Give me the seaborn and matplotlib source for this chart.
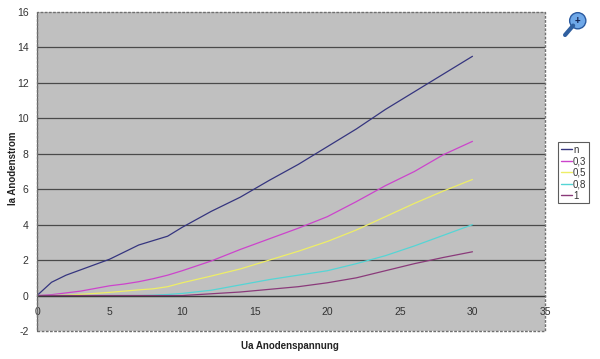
import pandas as pd
import matplotlib
matplotlib.use("Agg")
import matplotlib.pyplot as plt
import seaborn as sns
from matplotlib.patches import Rectangle, Circle

# anode voltage (x) and anode current for each grid setting
ua = [0, 1, 2, 3, 4, 5, 6, 7, 8, 9, 10, 12, 14, 16, 18, 20, 22, 24, 26, 28, 30]
ia_n = [0, 0.75, 1.15, 1.45, 1.75, 2.05, 2.45, 2.85, 3.1, 3.35, 3.85, 4.75, 5.55, 6.5, 7.4, 8.4, 9.4, 10.5, 11.5, 12.5, 13.5]
ia_03 = [0, 0.05, 0.15, 0.25, 0.4, 0.55, 0.65, 0.78, 0.95, 1.15, 1.4, 1.95, 2.6, 3.2, 3.8, 4.45, 5.3, 6.2, 7.0, 7.95, 8.7]
ia_05 = [0, 0, 0.02, 0.07, 0.12, 0.18, 0.25, 0.32, 0.38, 0.5, 0.72, 1.1, 1.5, 2.0, 2.5, 3.05, 3.7, 4.45, 5.2, 5.9, 6.55]
ia_08 = [0, 0, 0, 0, 0, 0, 0, 0, 0.02, 0.06, 0.12, 0.3, 0.6, 0.9, 1.15, 1.4, 1.8, 2.25, 2.8, 3.4, 4.0]
ia_1 = [0, 0, 0, 0, 0, 0, 0, 0, 0, 0, 0, 0.1, 0.2, 0.35, 0.5, 0.72, 1.0, 1.4, 1.8, 2.15, 2.47]

series_names = ["n", "0,3", "0,5", "0,8", "1"]
colors = ["#35357f", "#cc44cc", "#eeee66", "#55d5d5", "#8a3a7a"]

rows = []
for name, vals in zip(series_names, [ia_n, ia_03, ia_05, ia_08, ia_1]):
    for x, y in zip(ua, vals):
        rows.append({"Ua": x, "Ia": y, "Serie": name})
df = pd.DataFrame(rows)

sns.set_style("white")
plt.rcParams["font.family"] = ["Liberation Sans", "DejaVu Sans"]
plt.rcParams["axes.unicode_minus"] = False

fig = plt.figure(figsize=(6, 3.59), dpi=100)
ax = fig.add_axes([0.0617, 0.078, 0.8467, 0.8886])
ax.set_facecolor("#c0c0c0")

sns.lineplot(data=df, x="Ua", y="Ia", hue="Serie", hue_order=series_names,
             palette=colors, linewidth=0.9, ax=ax, legend=False)

ax.set_xlim(0, 35)
ax.set_ylim(-2, 16)
ax.set_yticks(range(-2, 17, 2))
ax.set_xticks(range(0, 36, 5))
for yv in range(0, 16, 2):
    ax.axhline(yv, color="#4a4a4a", linewidth=0.9, zorder=0.5)

for s in ["top", "right"]:
    ax.spines[s].set_visible(False)
ax.spines["bottom"].set_position(("data", 0))
ax.spines["bottom"].set_color("#3a3a3a")
ax.spines["bottom"].set_linewidth(0.9)
ax.spines["left"].set_color("#606060")
ax.spines["left"].set_linestyle((0, (2, 1)))

ax.add_patch(Rectangle((0, 0), 1, 1, transform=ax.transAxes, fill=False,
                       edgecolor="#707070", linestyle=(0, (2, 1)), linewidth=1.0,
                       zorder=5, clip_on=False))

ax.tick_params(axis="x", direction="out", length=3, width=0.8, pad=5,
               labelsize=7.5, colors="#222222", labelcolor="#333333")
ax.tick_params(axis="y", direction="out", length=3, width=0.8, pad=3,
               labelsize=7.5, colors="#222222", labelcolor="#333333")

ax.set_xlabel("")
ax.set_ylabel("")
fig.text(0.483, 0.035, "Ua Anodenspannung", ha="center", va="center",
         fontsize=7, fontweight="bold", color="#222222")
fig.text(0.022, 0.53, "Ia Anodenstrom", ha="center", va="center", rotation=90,
         fontsize=7, fontweight="bold", color="#222222")

handles = [plt.Line2D([0], [0], color=c, linewidth=1) for c in colors]
leg = fig.legend(handles, series_names, loc="upper left",
                 bbox_to_anchor=(0.93, 0.605), fontsize=7, frameon=True,
                 fancybox=False, edgecolor="#333333", handlelength=1.1,
                 handletextpad=0.15, borderpad=0.3, labelspacing=0.15,
                 borderaxespad=0)
leg.get_frame().set_linewidth(0.8)
for t in leg.get_texts():
    t.set_color("#333333")

# magnifier icon at the top right
iax = fig.add_axes([0.935, 0.895, 0.045, 0.075])
iax.set_xlim(0, 1)
iax.set_ylim(0, 1)
iax.axis("off")
iax.plot([0.15, 0.45], [0.1, 0.45], color="#3060a0", linewidth=3, solid_capstyle="round")
iax.add_patch(Circle((0.62, 0.63), 0.3, facecolor="#6fa8e8", edgecolor="#2a5aa0", linewidth=1))
iax.text(0.62, 0.63, "+", ha="center", va="center", fontsize=7, fontweight="bold", color="#102050")

fig.savefig("out.png", dpi=100)
